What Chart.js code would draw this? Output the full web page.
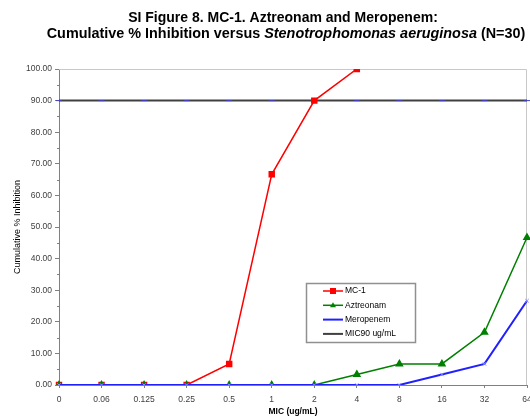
<!DOCTYPE html>
<html>
<head>
<meta charset="utf-8">
<script src="https://cdn.jsdelivr.net/npm/chart.js@4.4.1/dist/chart.umd.min.js"></script>
<style>
  html, body { margin: 0; padding: 0; background: #fff; }
  #wrap { width: 530px; height: 417px; position: relative; }
</style>
</head>
<body>
<div id="wrap"><canvas id="c" width="530" height="417"></canvas></div>
<script>
// MIC dilution steps (ug/mL)
const micLabels = ['0', '0.06', '0.125', '0.25', '0.5', '1', '2', '4', '8', '16', '32', '64'];

// Cumulative % of isolates inhibited at each MIC (N=30)
const mc1 =        [0, 0, 0, 0, 6.67, 66.67, 90, 100, null, null, null, null];
const aztreonam =  [0, 0, 0, 0, 0, 0, 0, 3.33, 6.67, 6.67, 16.67, 46.67];
const meropenem =  [0, 0, 0, 0, 0, 0, 0, 0, 0, 3.33, 6.67, 26.67];
const mic90 =      [90, 90, 90, 90, 90, 90, 90, 90, 90, 90, 90, 90];

const FONT = '"Liberation Sans", Arial, sans-serif';
const PLOT_RIGHT = 527;

// Let the last category sit on the right edge, its label running off the canvas
const rightEdgePlugin = {
  id: 'rightEdge',
  afterLayout(chart) {
    const x = chart.scales.x;
    x.right = PLOT_RIGHT;
    x.width = x.right - x.left;
    x.configure();
    chart.chartArea.right = PLOT_RIGHT;
    chart.chartArea.width = PLOT_RIGHT - chart.chartArea.left;
    const y = chart.scales.y;
    y.configure();
  }
};

// Two-line heading, second line has an italic organism name
const headingPlugin = {
  id: 'heading',
  afterDraw(chart) {
    const ctx = chart.ctx;
    ctx.save();
    ctx.fillStyle = '#000';
    ctx.textBaseline = 'middle';
    ctx.font = 'bold 14px ' + FONT;
    ctx.textAlign = 'center';
    ctx.fillText('SI Figure 8. MC-1. Aztreonam and Meropenem:', 283, 18);
    const parts = [
      ['bold 14.4px ' + FONT, 'Cumulative % Inhibition versus '],
      ['italic bold 14.4px ' + FONT, 'Stenotrophomonas aeruginosa'],
      ['bold 14.4px ' + FONT, ' (N=30)']
    ];
    let total = 0;
    parts.forEach(p => { ctx.font = p[0]; total += ctx.measureText(p[1]).width; });
    let x = 286 - total / 2;
    ctx.textAlign = 'left';
    parts.forEach(p => { ctx.font = p[0]; ctx.fillText(p[1], x, 34); x += ctx.measureText(p[1]).width; });
    ctx.restore();
  }
};

// Light frame on top and right of the plot area, plus minor ticks on the value axis
const framePlugin = {
  id: 'frame',
  beforeDatasetsDraw(chart) {
    const { ctx, chartArea: a, scales } = chart;
    ctx.save();
    ctx.strokeStyle = '#c8c8c8';
    ctx.lineWidth = 1;
    ctx.beginPath();
    ctx.moveTo(a.left, a.top + 0.5);
    ctx.lineTo(a.right - 0.5, a.top + 0.5);
    ctx.lineTo(a.right - 0.5, a.bottom);
    ctx.stroke();
    ctx.strokeStyle = '#808080';
    ctx.beginPath();
    for (let v = 5; v < 100; v += 10) {
      const y = Math.round(scales.y.getPixelForValue(v)) + 0.5;
      ctx.moveTo(a.left - 2, y);
      ctx.lineTo(a.left, y);
    }
    ctx.stroke();
    ctx.restore();
  }
};

// Boxed legend placed inside the plot area
const boxLegendPlugin = {
  id: 'boxLegend',
  afterDraw(chart) {
    const ctx = chart.ctx;
    const x0 = 306, y0 = 283, w = 109, h = 59;
    ctx.save();
    ctx.fillStyle = '#fff';
    ctx.fillRect(x0, y0, w, h);
    ctx.strokeStyle = '#909090';
    ctx.lineWidth = 1.5;
    ctx.strokeRect(x0 + 0.5, y0 + 0.5, w, h);
    ctx.font = '8.5px ' + FONT;
    ctx.textBaseline = 'middle';
    chart.data.datasets.forEach((ds, i) => {
      const y = y0 + 8 + i * 14.3;
      ctx.strokeStyle = ds.borderColor;
      ctx.lineWidth = ds.borderWidth;
      ctx.beginPath();
      ctx.moveTo(x0 + 17, y);
      ctx.lineTo(x0 + 37, y);
      ctx.stroke();
      if (ds.pointStyle === 'rect') {
        ctx.fillStyle = ds.pointBackgroundColor;
        ctx.fillRect(x0 + 24, y - 3, 6, 6);
      } else if (ds.pointStyle === 'triangle') {
        ctx.fillStyle = ds.pointBackgroundColor;
        ctx.beginPath();
        ctx.moveTo(x0 + 27, y - 3);
        ctx.lineTo(x0 + 30, y + 2);
        ctx.lineTo(x0 + 24, y + 2);
        ctx.closePath();
        ctx.fill();
      }
      ctx.fillStyle = '#000';
      ctx.fillText(ds.label, x0 + 39, y);
    });
    ctx.restore();
  }
};

new Chart(document.getElementById('c'), {
  type: 'line',
  data: {
    labels: micLabels,
    datasets: [
      {
        label: 'MC-1', data: mc1,
        borderColor: '#ff0000', backgroundColor: '#ff0000', borderWidth: 1.5,
        pointStyle: 'rect', pointRadius: 3.5, pointBackgroundColor: '#ff0000', pointBorderColor: '#ff0000',
        tension: 0, order: 3
      },
      {
        label: 'Aztreonam', data: aztreonam,
        borderColor: '#008000', backgroundColor: '#008000', borderWidth: 1.5,
        pointStyle: 'triangle', pointRadius: 3.5, pointBackgroundColor: '#008000', pointBorderColor: '#008000',
        tension: 0, order: 2
      },
      {
        label: 'Meropenem', data: meropenem,
        borderColor: '#2020ff', backgroundColor: '#2020ff', borderWidth: 2,
        pointStyle: 'crossRot', pointRadius: 2.5, pointBorderColor: '#9090ff', pointBorderWidth: 1,
        tension: 0, order: 1
      },
      {
        label: 'MIC90 ug/mL', data: mic90,
        borderColor: '#404040', backgroundColor: '#404040', borderWidth: 2,
        pointStyle: 'line', pointRadius: 3, pointBorderColor: '#4040c0', pointBorderWidth: 1,
        tension: 0, order: 4
      }
    ]
  },
  options: {
    responsive: false,
    animation: false,
    devicePixelRatio: 1,
    layout: { padding: { top: 69, right: 0, left: 12, bottom: 0 } },
    plugins: {
      legend: { display: false },
      title: { display: false },
      tooltip: { enabled: false }
    },
    scales: {
      x: {
        type: 'category',
        offset: false,
        grid: { drawOnChartArea: false, color: '#808080', tickLength: 3 },
        border: { color: '#808080', width: 1 },
        ticks: { font: { family: FONT, size: 8.5 }, color: '#404040', padding: 7, maxRotation: 0, autoSkip: false },
        title: { display: true, text: 'MIC (ug/mL)', font: { family: FONT, size: 8.5, weight: 'bold' }, color: '#000', padding: { top: 0, bottom: 0 } },
        afterFit(scale) { scale.height = 32; }
      },
      y: {
        min: 0, max: 100,
        ticks: { stepSize: 10, font: { family: FONT, size: 8.5 }, color: '#404040', padding: 3,
                 callback: v => Number(v).toFixed(2) },
        grid: { drawOnChartArea: false, color: '#808080', tickLength: 4 },
        border: { color: '#808080', width: 1 },
        title: { display: true, text: 'Cumulative % Inhibition', font: { family: FONT, size: 9 }, color: '#000', padding: { top: 0, bottom: 0 } },
        afterFit(scale) { scale.width = 47; }
      }
    }
  },
  plugins: [rightEdgePlugin, framePlugin, headingPlugin, boxLegendPlugin]
});
</script>
</body>
</html>
